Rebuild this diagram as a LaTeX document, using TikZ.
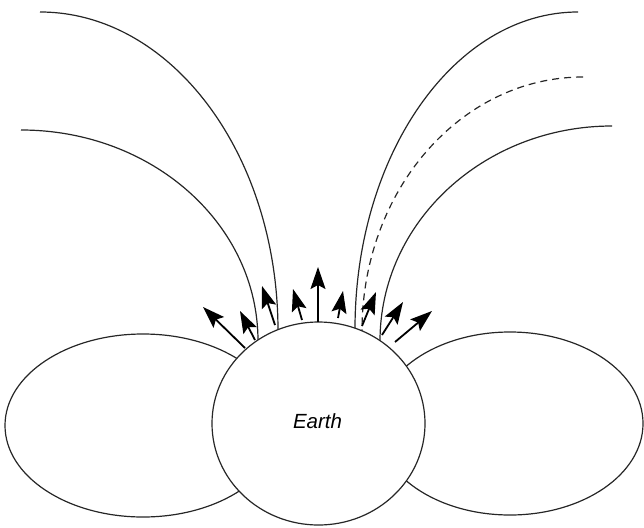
\documentclass[tikz,border=0pt]{standalone}
\usepackage{fontspec}
\setmainfont{Liberation Sans}
\usetikzlibrary{arrows.meta,shapes.geometric}
\begin{document}
\begin{tikzpicture}[x=1pt,y=-1pt,
  fieldline/.style={line width=1.2pt, draw=black!85},
  lobe/.style={line width=1.2pt, draw=black!85},
  planet/.style={line width=1.2pt, draw=black!85, fill=white},
  flow/.style={line width=1.8pt, draw=black,
    -{Stealth[length=22pt,width=15pt,inset=4pt]}}]
\useasboundingbox (0,0) rectangle (644,527);

% end points of the field lines
\coordinate (la) at (40,12);   \coordinate (lb) at (278,331);
\coordinate (lc) at (21,130);  \coordinate (ld) at (258,341);
\coordinate (ra) at (578,12);  \coordinate (rb) at (355,329);
\coordinate (rc) at (583,77);  \coordinate (rd) at (362,331);
\coordinate (re) at (612,126); \coordinate (rf) at (380,341);

% open field lines
\draw[fieldline] (la) .. controls (171,12) and (278,154) .. (lb);
\draw[fieldline] (lc) .. controls (152,130) and (258,224) .. (ld);
\draw[fieldline] (ra) .. controls (455,12) and (355,154) .. (rb);
\draw[fieldline, dash pattern=on 7pt off 5pt] (rc) .. controls (461,77) and (362,190) .. (rd);
\draw[fieldline] (re) .. controls (484,126) and (380,222) .. (rf);

% closed loops either side
\draw[lobe] (143,425.5) ellipse [x radius=138, y radius=91.5];
\draw[lobe] (510,423.5) ellipse [x radius=133, y radius=91.5];

% the planet
\node[planet, ellipse, minimum width=213pt, minimum height=203pt, inner sep=0pt]
  (earth) at (318.5,423.5) {};
\node[font=\fontsize{20.5}{24}\selectfont\itshape] (label) at (317.5,421) {Earth};

% outflow arrows
\coordinate (t1) at (245,348); \coordinate (h1) at (203,307);
\coordinate (t2) at (255,340); \coordinate (h2) at (240,311);
\coordinate (t3) at (275,325); \coordinate (h3) at (262,286);
\coordinate (t4) at (302,320); \coordinate (h4) at (293,289);
\coordinate (t5) at (318,322); \coordinate (h5) at (318,267);
\coordinate (t6) at (338,318); \coordinate (h6) at (343,291);
\coordinate (t7) at (362,326); \coordinate (h7) at (376,292);
\coordinate (t8) at (382,335); \coordinate (h8) at (403,302);
\coordinate (t9) at (395,342); \coordinate (h9) at (432,311);
\foreach \i in {1,...,9} \draw[flow] (t\i) -- (h\i);
\end{tikzpicture}
\end{document}
